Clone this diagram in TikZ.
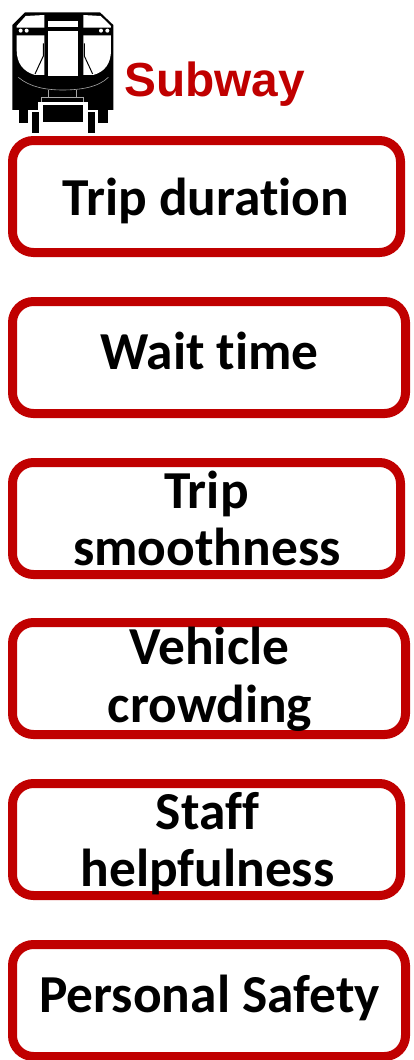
\documentclass[tikz,border=0pt]{standalone}
\usepackage{fontspec}
\setmainfont[Ligatures=NoCommon]{Carlito}
\newfontfamily\arialf{Liberation Sans}
\definecolor{boxred}{HTML}{C00000}
\tikzset{
 itembox/.style={draw=boxred,line width=9pt,rounded corners=21pt,fill=white,anchor=north west,inner sep=0pt,outer sep=0pt},
 itemtext/.style={font=\fontsize{53.4}{58}\selectfont\bfseries,align=center,text=black,inner sep=0pt},
 wh/.style={fill=white,draw=none},
 gl/.style={draw=gray!70,line width=0.6pt}
}
\begin{document}
\begin{tikzpicture}[x=1pt,y=-1pt]
\useasboundingbox (0,0) rectangle (413,1060);
\fill[white] (0,0) rectangle (413,1060);
% train icon
\begin{scope}[x=0.3333pt,y=-0.3333pt]
\fill[black] (37,75) -- (75,37) -- (300,37) -- (340,75) -- (340,330) -- (37,330) -- cycle;
\fill[black] (57,325) rectangle (85,368);
\fill[black] (295,325) rectangle (323,368);
\fill[wh] (50,83) -- (50,78) -- (77,48) -- (133,45) -- (133,83) -- cycle;
\fill[wh] (333,83) -- (333,78) -- (302,48) -- (250,45) -- (250,83) -- cycle;
\fill[wh] (143,62) rectangle (233,82);
\fill[wh] (143,92) rectangle (233,228);
\fill[wh] (50,106) -- (133,106) -- (133,225) -- (105,225) .. controls (70,215) and (50,190) .. (50,150) -- cycle;
\fill[wh] (333,106) -- (250,106) -- (250,225) -- (280,225) .. controls (315,215) and (333,190) .. (333,150) -- cycle;
\draw[black,line width=1pt] (105,222) -- (130,168) -- (130,130);
\draw[black,line width=1pt] (278,222) -- (253,168) -- (253,130);
\foreach \p in {62,80,303,322} \fill[white] (\p,92) circle (6);
\draw[gl] (55,232) .. controls (90,262) and (140,270) .. (188,270) .. controls (240,270) and (295,262) .. (325,232);
\draw[gl] (145,270) -- (145,292) -- (125,292) -- (125,305);
\draw[gl] (230,270) -- (230,292) -- (250,292) -- (250,305);
\draw[gl] (145,292) -- (230,292);
\fill[wh] (115,306) rectangle (263,398);
\fill[white] (85,330) rectangle (295,372);
\fill[black] (57,330) rectangle (85,366);
\fill[black] (295,330) rectangle (323,366);
\fill[black] (128,316) rectangle (250,365);
\fill[black] (95,335) rectangle (118,398);
\fill[black] (263,335) rectangle (285,398);
\end{scope}
\node[anchor=base west,text=boxred,inner sep=0pt,font=\arialf\fontsize{47.8}{50}\selectfont\bfseries] (title) at (124,96) {Subway};
% boxes
\node[itembox,minimum width=388pt,minimum height=112pt] (b1) at (12.5,140.5) {};
\node[itembox,minimum width=393pt,minimum height=112pt] (b2) at (12.5,301.5) {};
\node[itembox,minimum width=388pt,minimum height=112pt] (b3) at (12.5,462.5) {};
\node[itembox,minimum width=393pt,minimum height=112pt] (b4) at (12.5,622.5) {};
\node[itembox,minimum width=388pt,minimum height=112pt] (b5) at (12.5,783.5) {};
\node[itembox,minimum width=393pt,minimum height=112pt] (b6) at (12.5,944.5) {};
\node[itemtext,anchor=base] (t1) at (206,215) {Trip duration};
\node[itemtext,anchor=base] (t2) at (209.5,369) {Wait time};
\node[itemtext,anchor=base] (t3a) at (206.5,508) {Trip};
\node[itemtext,anchor=base] (t3b) at (207,565.5) {smoothness};
\node[itemtext,anchor=base] (t4a) at (209.5,664.5) {Vehicle};
\node[itemtext,anchor=base] (t4b) at (210,722.5) {crowding};
\node[itemtext,anchor=base] (t5a) at (207.5,829.5) {Staff};
\node[itemtext,anchor=base] (t5b) at (207.5,886.5) {helpfulness};
\node[itemtext,anchor=base] (t6) at (209.5,1012) {Personal Safety};
\end{tikzpicture}
\end{document}
